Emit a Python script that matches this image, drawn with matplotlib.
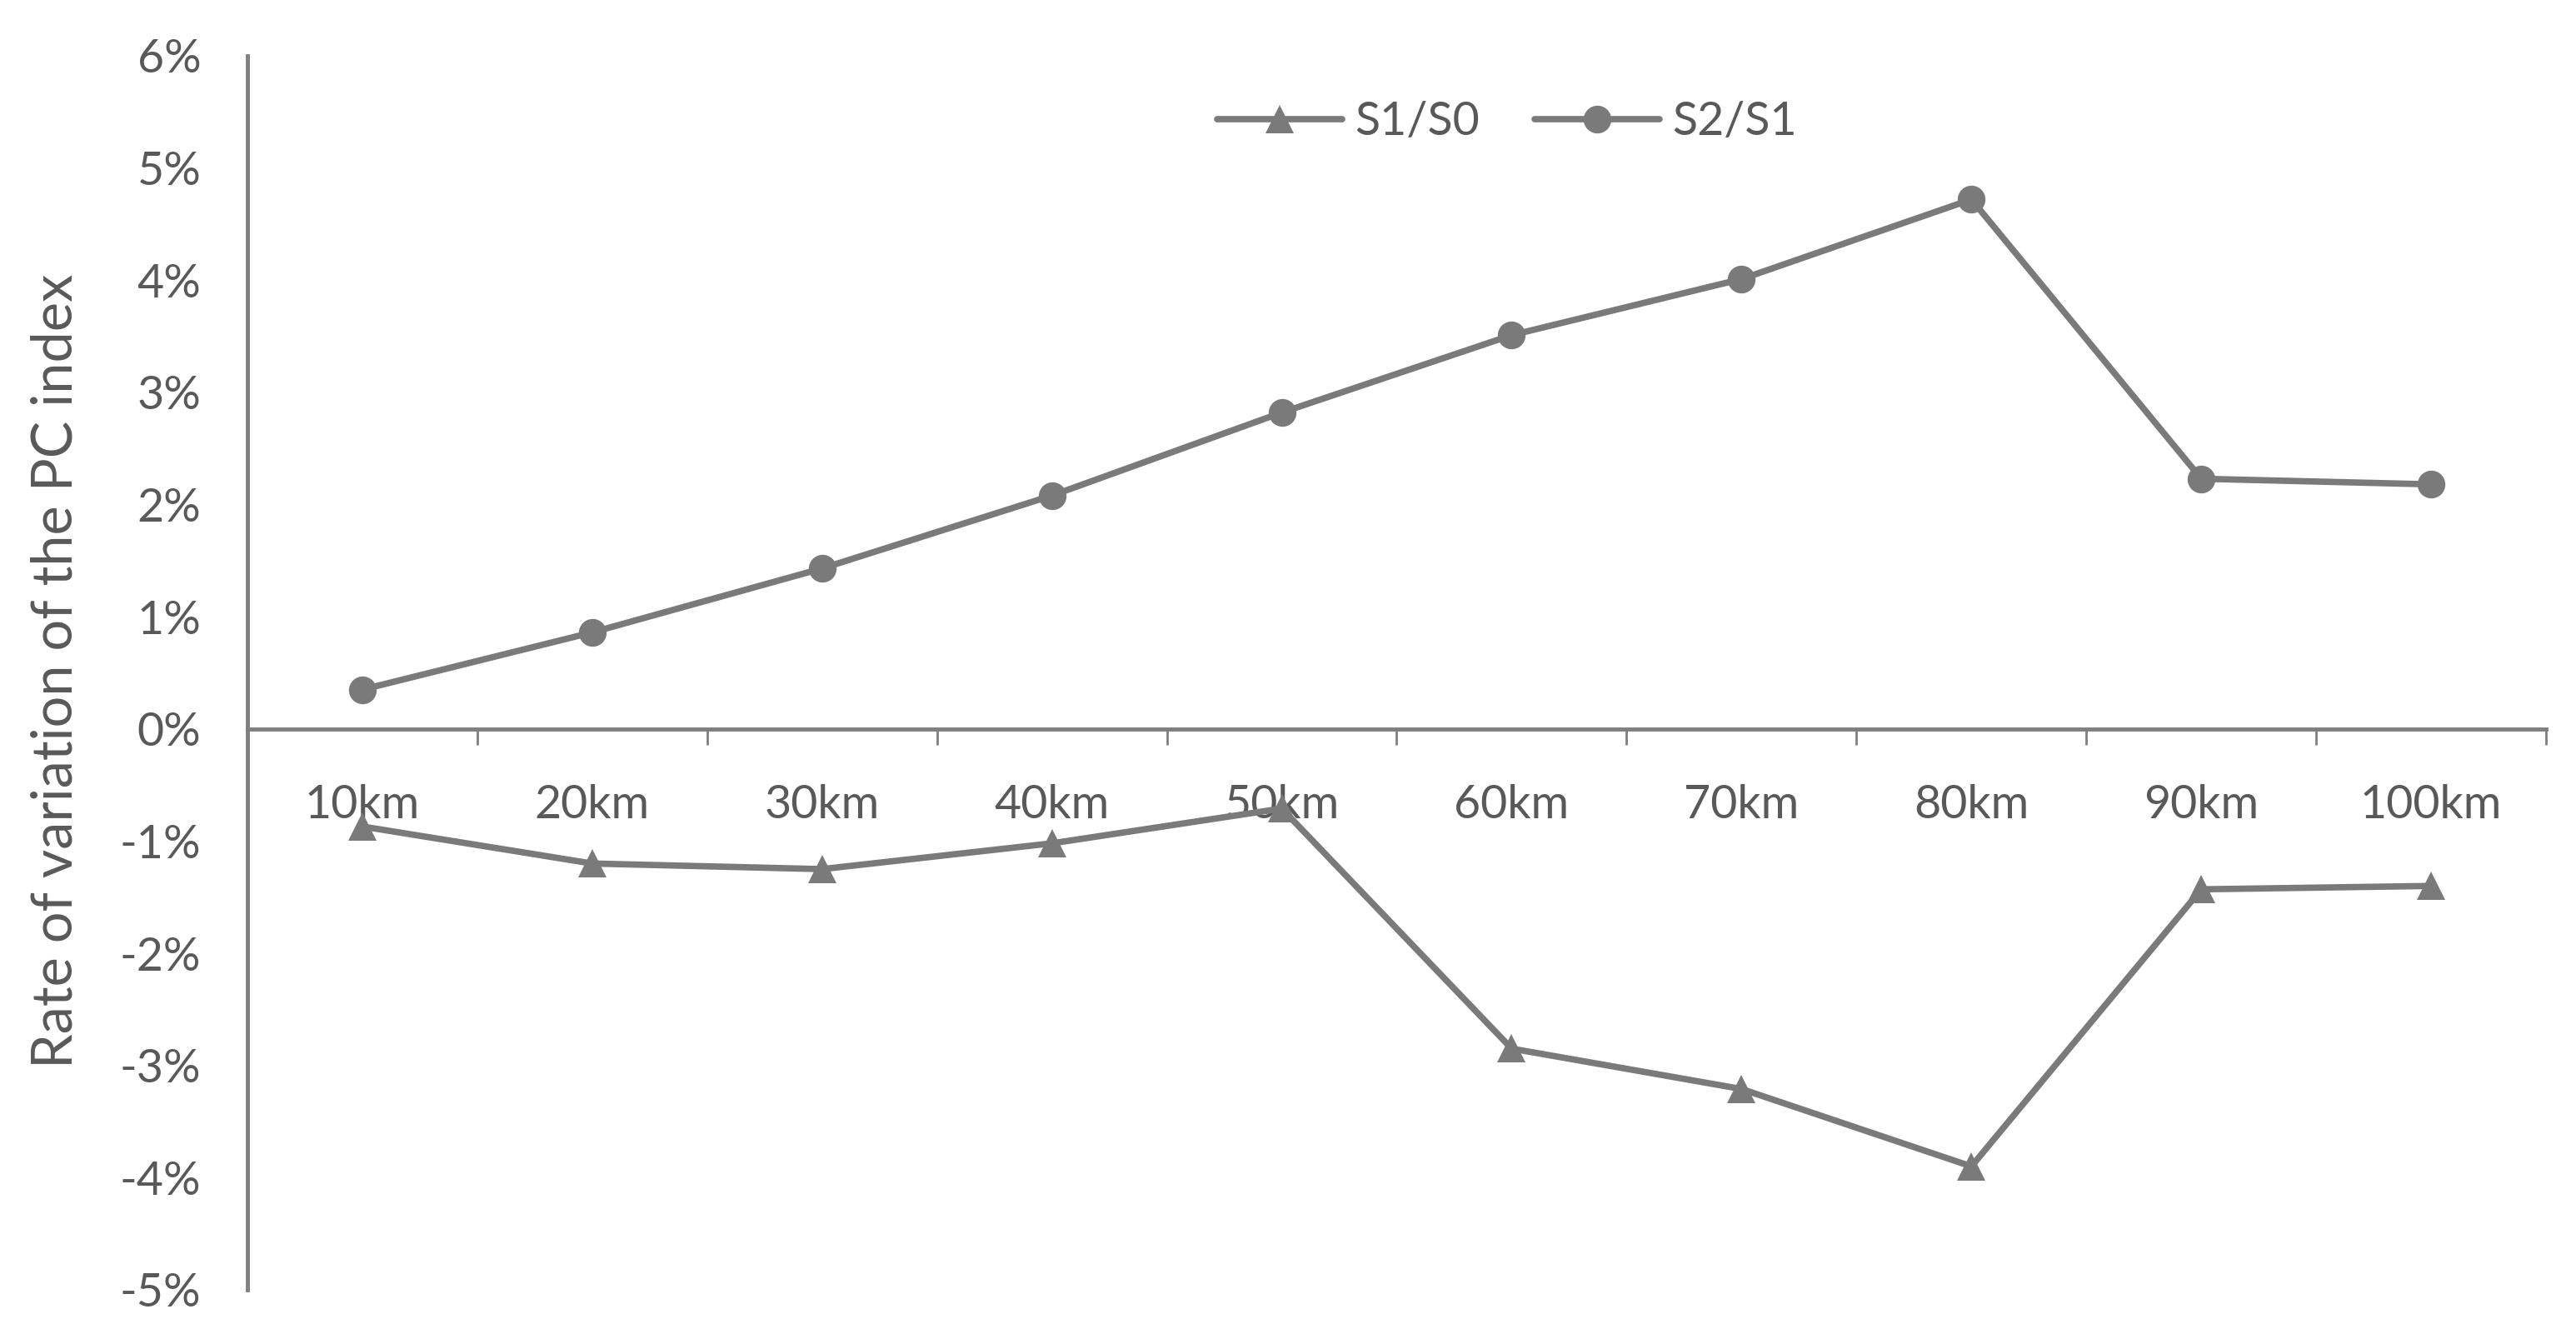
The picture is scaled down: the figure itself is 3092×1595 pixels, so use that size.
import matplotlib
matplotlib.use("Agg")
import matplotlib.pyplot as plt
from matplotlib.ticker import FuncFormatter, FixedLocator

categories = ["10km", "20km", "30km", "40km", "50km", "60km", "70km", "80km", "90km", "100km"]
s1_s0 = [-0.87, -1.20, -1.25, -1.02, -0.71, -2.85, -3.21, -3.90, -1.43, -1.40]
s2_s1 = [0.35, 0.86, 1.43, 2.08, 2.82, 3.51, 4.01, 4.72, 2.23, 2.18]
yticks = [-5, -4, -3, -2, -1, 0, 1, 2, 3, 4, 5, 6]

plt.rcParams['font.family'] = ['Lato', 'DejaVu Sans']
line_col = '#7a7a7a'
text_col = '#595959'
axis_col = '#7f7f7f'

fig = plt.figure(figsize=(30.92, 15.95), dpi=100)
ax = fig.add_axes([0.0960, 0.0295, 0.8924, 0.9285])

x = list(range(len(categories)))
ax.plot(x, s1_s0, color=line_col, lw=5.5, marker='^', markersize=25,
        markeredgewidth=0, label='S1/S0', solid_capstyle='round', solid_joinstyle='round')
ax.plot(x, s2_s1, color=line_col, lw=5.5, marker='o', markersize=24,
        markeredgewidth=0, label='S2/S1', solid_capstyle='round', solid_joinstyle='round')

ax.set_xlim(-0.5, len(categories) - 0.5)
ax.set_ylim(-5, 6)

for s in ['top', 'right']:
    ax.spines[s].set_visible(False)
ax.spines['bottom'].set_position(('data', 0))
ax.spines['bottom'].set_color(axis_col)
ax.spines['left'].set_color(axis_col)
ax.spines['bottom'].set_linewidth(3.5)
ax.spines['left'].set_linewidth(3.5)

ax.xaxis.set_major_locator(FixedLocator([i - 0.5 for i in range(len(categories) + 1)]))
ax.xaxis.set_minor_locator(FixedLocator(x))
ax.set_xticklabels([], minor=False)
ax.set_xticklabels(categories, minor=True)
ax.tick_params(axis='x', which='major', direction='out', length=14, width=2, color=axis_col)
ax.tick_params(axis='x', which='minor', length=0, pad=48, labelsize=40, labelcolor=text_col)

ax.set_yticks(yticks)
ax.yaxis.set_major_formatter(FuncFormatter(lambda v, p: f"{int(v)}%"))
ax.tick_params(axis='y', length=0, pad=40, labelsize=40, labelcolor=text_col)

fig.text(0.0217, 0.495, 'Rate of variation of the PC index', rotation=90,
         ha='center', va='center', fontsize=48, color=text_col)

ax.legend(loc='center', bbox_to_anchor=(0.585, 0.908), bbox_transform=fig.transFigure,
          ncol=2, frameon=False, fontsize=40, handlelength=2.7, handletextpad=0.27,
          columnspacing=1.2, labelcolor=text_col)

fig.savefig('out.png', dpi=100)
